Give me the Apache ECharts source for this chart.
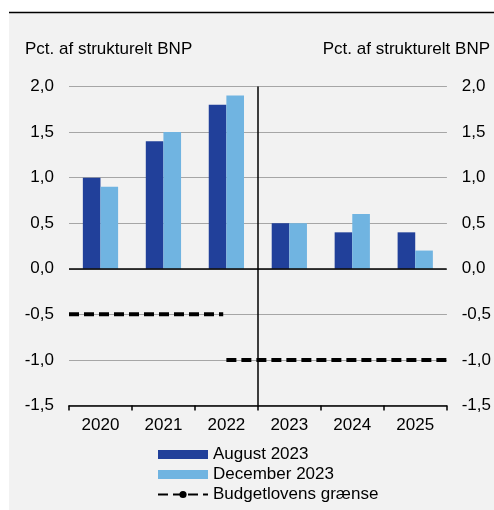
<!DOCTYPE html>
<html>
<head>
<meta charset="utf-8">
<script src="https://cdn.jsdelivr.net/npm/echarts@6/dist/echarts.min.js"></script>
<style>
html,body{margin:0;padding:0;background:#fff;}
#chart{width:494px;height:510px;}
</style>
</head>
<body>
<div id="chart"></div>
<script>
var categories = ['2020','2021','2022','2023','2024','2025'];
var august2023 = [1.0, 1.4, 1.8, 0.5, 0.4, 0.4];
var december2023 = [0.9, 1.5, 1.9, 0.5, 0.6, 0.2];
var limitA = [[0, -0.5], [2.45, -0.5]];
var limitB = [[2.5, -1.0], [6, -1.0]];
var yTicks = [-1.5, -1.0, -0.5, 0.0, 0.5, 1.0, 1.5, 2.0];
var axisTitle = 'Pct. af strukturelt BNP';
var seriesNames = ['August 2023', 'December 2023', 'Budgetlovens grænse'];

var FONT = "'Liberation Sans', Arial, sans-serif";
function fmt(v){ return v.toFixed(1).replace('.', ','); }

var chart = echarts.init(document.getElementById('chart'), null, {renderer:'canvas'});
var yAxisBase = function(pos){
  return {
    type:'value', position: pos, min: yTicks[0], max: yTicks[yTicks.length-1], interval: 0.5,
    axisLine:{show:false}, axisTick:{show:false},
    axisLabel:{formatter: fmt, color:'#000', fontSize:17, fontFamily:FONT, margin:15},
    splitLine:{show:true, lineStyle:{color:'#a6a6a6', width:1}}
  };
};
chart.setOption({
  animation:false,
  textStyle:{fontFamily:FONT},
  graphic:[
    {type:'rect', z:-10, silent:true, shape:{x:9, y:13, width:485, height:497}, style:{fill:'#f2f2f2'}},
    {type:'line', z:-9, silent:true, shape:{x1:9, y1:12.5, x2:494, y2:12.5}, style:{stroke:'#000', lineWidth:1.5}},
    {type:'text', left:25, top:41, style:{text:axisTitle, fill:'#000', font:'17px ' + FONT}},
    {type:'text', right:4, top:41, style:{text:axisTitle, fill:'#000', font:'17px ' + FONT}}
  ],
  grid:{left:69, right:47, top:86.5, bottom:104.5},
  legend:{
    orient:'vertical', left:157, top:446, padding:0, height:70, itemWidth:50, itemHeight:9, itemGap:3,
    textStyle:{color:'#000', fontSize:17, lineHeight:17, fontFamily:FONT},
    data:[
      {name:seriesNames[0], icon:'rect'},
      {name:seriesNames[1], icon:'rect'},
      {name:seriesNames[2]}
    ]
  },
  xAxis:[
    {type:'category', data:categories, position:'bottom',
     axisLine:{onZero:false, lineStyle:{color:'#000', width:1.5}},
     axisTick:{show:true, length:5, lineStyle:{color:'#000', width:1.5}},
     axisLabel:{color:'#000', fontSize:17, fontFamily:FONT, margin:11},
     splitLine:{show:false}},
    {type:'value', min:0, max:6, show:false}
  ],
  yAxis:[yAxisBase('left'), yAxisBase('right')],
  series:[
    {name:seriesNames[0], type:'bar', data:august2023, barWidth:'28%', barGap:'0%',
     itemStyle:{color:'#21409a'},
     markLine:{silent:true, symbol:'none', label:{show:false},
       lineStyle:{color:'#000', width:1.5, type:'solid'}, data:[{yAxis:0}]}},
    {name:seriesNames[1], type:'bar', data:december2023, barWidth:'28%', barGap:'0%',
     itemStyle:{color:'#70b4e1'}},
    {name:seriesNames[2], type:'line', xAxisIndex:1, data:limitA, symbol:'none',
     lineStyle:{color:'#000', width:4, type:[10,5]}, itemStyle:{color:'#000'},
     markLine:{silent:true, symbol:'none', label:{show:false},
       lineStyle:{color:'#000', width:1.5, type:'solid'}, data:[{xAxis:3}]}},
    {name:seriesNames[2], type:'line', xAxisIndex:1, data:limitB, symbol:'none',
     lineStyle:{color:'#000', width:4, type:[10,5]}, itemStyle:{color:'#000'}}
  ]
});
</script>
</body>
</html>
